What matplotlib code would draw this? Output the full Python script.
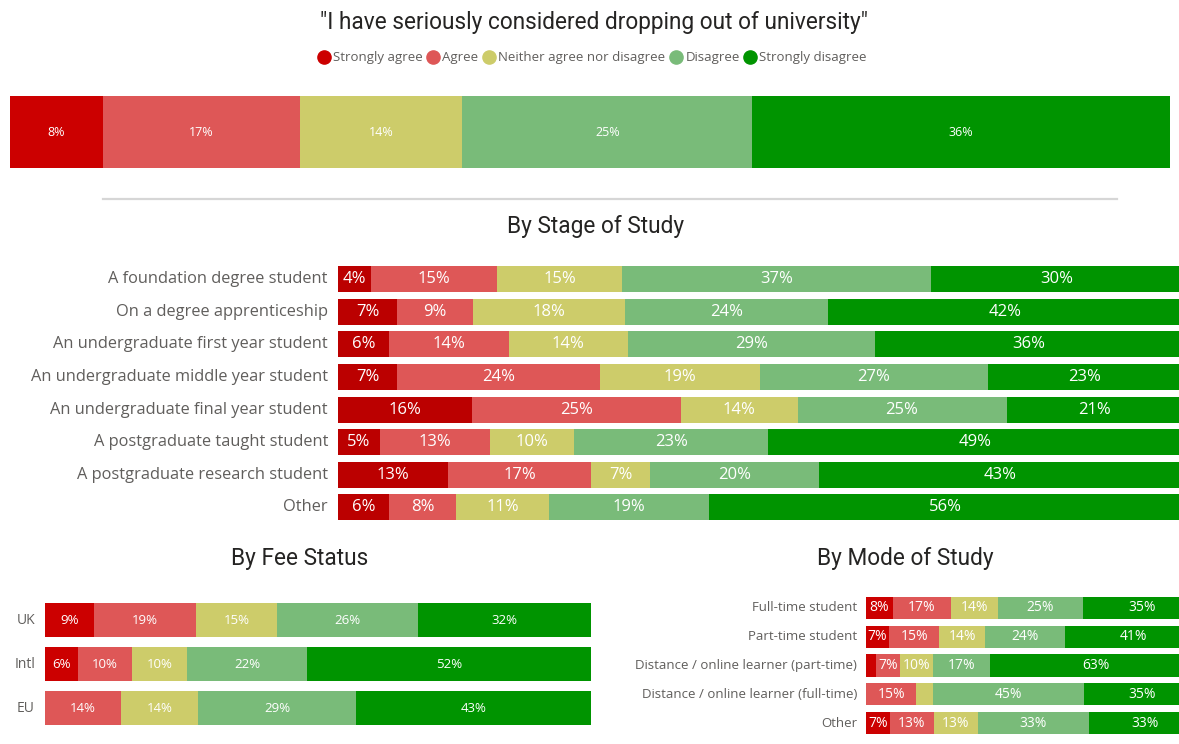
"""
Likert-style stacked bars: "I have seriously considered dropping out of university".
Overall split, then by stage of study, fee status and mode of study.
"""
import numpy as np
import matplotlib.pyplot as plt
from matplotlib.lines import Line2D

# --------- DATA ---------
responses = ["Strongly agree", "Agree", "Neither agree nor disagree", "Disagree", "Strongly disagree"]
overall = [8, 17, 14, 25, 36]

stage_labels = [
    "A foundation degree student",
    "On a degree apprenticeship",
    "An undergraduate first year student",
    "An undergraduate middle year student",
    "An undergraduate final year student",
    "A postgraduate taught student",
    "A postgraduate research student",
    "Other",
]
stage_sa = [4, 7, 6, 7, 16, 5, 13, 6]
stage_ag = [15, 9, 14, 24, 25, 13, 17, 8]
stage_ne = [15, 18, 14, 19, 14, 10, 7, 11]
stage_di = [37, 24, 29, 27, 25, 23, 20, 19]
stage_sd = [30, 42, 36, 23, 21, 49, 43, 56]

fee_labels = ["UK", "Intl", "EU"]
fee_sa = [9, 6, 0]
fee_ag = [19, 10, 14]
fee_ne = [15, 10, 14]
fee_di = [26, 22, 29]
fee_sd = [32, 52, 43]

mode_labels = [
    "Full-time student",
    "Part-time student",
    "Distance / online learner (part-time)",
    "Distance / online learner (full-time)",
    "Other",
]
mode_sa = [8, 7, 3, 0, 7]
mode_ag = [17, 15, 7, 15, 13]
mode_ne = [14, 14, 10, 5, 13]
mode_di = [25, 24, 17, 45, 33]
mode_sd = [35, 41, 63, 35, 33]

# --------- STYLE ---------
COLORS = ["#CC0000", "#DE5757", "#CDCC6A", "#79BB79", "#009400"]
TITLE_FONT = "Roboto"
LABEL_FONT = "Open Sans"
TITLE_COLOR = "#252423"
CAT_COLOR = "#605E5C"
TITLE_SIZE = 16.3

W, H = 1179, 744
fig = plt.figure(figsize=(W / 100, H / 100), dpi=100)


def px_axes(x0, y0, x1, y1):
    """Axes placed with pixel coords measured from the top-left corner."""
    return fig.add_axes([x0 / W, 1 - y1 / H, (x1 - x0) / W, (y1 - y0) / H])


def px_text(x, y, s, **kw):
    fig.text(x / W, 1 - y / H, s, **kw)


def draw_stack(ax, series, cats, label_size, cat_size, min_label=1, bar_h=0.8,
               sa_color=None, gap=10):
    data = np.array(series, dtype=float).T  # rows x responses
    n = data.shape[0]
    totals = data.sum(axis=1)
    left = np.zeros(n)
    for j in range(data.shape[1]):
        w = data[:, j] / totals
        color = sa_color if (j == 0 and sa_color) else COLORS[j]
        ax.barh(np.arange(n), w, left=left, height=bar_h, color=color, edgecolor="none")
        for i in range(n):
            if data[i, j] >= min_label:
                ax.text(left[i] + w[i] / 2, i, f"{int(data[i, j])}%", ha="center", va="center",
                        color="white", fontsize=label_size, family=LABEL_FONT)
        left += w
    for i, c in enumerate(cats):
        ax.annotate(c, xy=(0, i), xycoords=("axes fraction", "data"), xytext=(-gap, 0),
                    textcoords="offset pixels", ha="right", va="center",
                    fontsize=cat_size, color=CAT_COLOR, family=LABEL_FONT)
    ax.set_xlim(0, 1)
    ax.set_ylim(n - 0.5, -0.5)
    ax.axis("off")


# --------- HEADER ---------
px_text(594, 23, '"I have seriously considered dropping out of university"', ha="center",
        va="center", fontsize=TITLE_SIZE, color=TITLE_COLOR, family=TITLE_FONT)
handles = [Line2D([], [], marker="o", ls="", markersize=9.5, color=c) for c in COLORS]
fig.legend(handles, responses, loc="center", bbox_to_anchor=(593 / W, 1 - 58 / H), ncol=5,
           frameon=False, handlelength=0.7, handletextpad=0.35, columnspacing=0.45,
           prop={"family": LABEL_FONT, "size": 9.5}, labelcolor=CAT_COLOR)

ax_top = px_axes(10, 96, 1170, 168)
draw_stack(ax_top, [[v] for v in overall], [""], label_size=9, cat_size=9, bar_h=1.0)

fig.add_artist(Line2D([103 / W, 1117 / W], [1 - 199 / H, 1 - 199 / H], color="#D6D6D6", lw=1.6))

# --------- BY STAGE ---------
px_text(596, 227, "By Stage of Study", ha="center", va="center", fontsize=TITLE_SIZE,
        color=TITLE_COLOR, family=TITLE_FONT)
ax_stage = px_axes(338, 263, 1182, 523.5)
draw_stack(ax_stage, [stage_sa, stage_ag, stage_ne, stage_di, stage_sd], stage_labels,
           label_size=12, cat_size=11.8, bar_h=0.8, sa_color="#BB0000")

# --------- BY FEE STATUS ---------
px_text(300, 558, "By Fee Status", ha="center", va="center", fontsize=TITLE_SIZE,
        color=TITLE_COLOR, family=TITLE_FONT)
ax_fee = px_axes(45, 598, 591, 730)
draw_stack(ax_fee, [fee_sa, fee_ag, fee_ne, fee_di, fee_sd], fee_labels,
           label_size=9.5, cat_size=10, bar_h=0.77)

# --------- BY MODE ---------
px_text(905, 558, "By Mode of Study", ha="center", va="center", fontsize=TITLE_SIZE,
        color=TITLE_COLOR, family=TITLE_FONT)
ax_mode = px_axes(866, 593.5, 1201, 737.5)
draw_stack(ax_mode, [mode_sa, mode_ag, mode_ne, mode_di, mode_sd], mode_labels,
           label_size=10, cat_size=9.5, min_label=6, bar_h=0.77, gap=9)

fig.savefig("out.png", dpi=100)
